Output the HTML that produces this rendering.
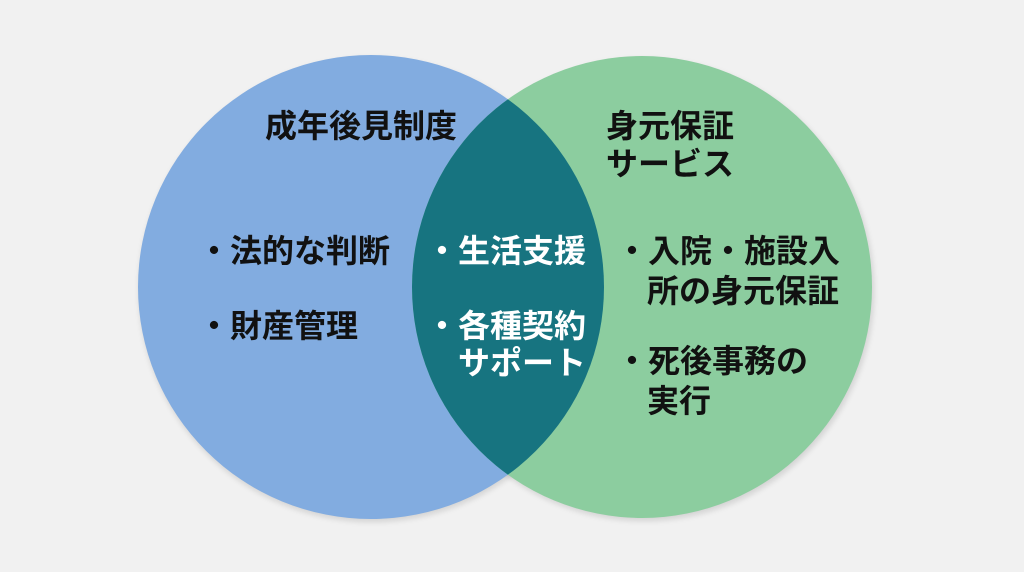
<!DOCTYPE html>
<html><head><meta charset="utf-8"><style>
html,body{margin:0;padding:0;background:#f1f1f1;}
svg{display:block}
text{font-family:"Liberation Sans","Noto Sans CJK JP",sans-serif;font-weight:bold;font-size:32px;}
</style></head><body>
<svg width="1024" height="572" viewBox="0 0 1024 572" xmlns="http://www.w3.org/2000/svg">
<defs>
<filter id="sh" x="-10%" y="-10%" width="120%" height="120%"><feGaussianBlur stdDeviation="3"/></filter>
<clipPath id="cl"><ellipse cx="371" cy="287" rx="233" ry="232"/></clipPath>
</defs>
<rect width="1024" height="572" fill="#f1f1f1"/>
<ellipse cx="372" cy="290" rx="233" ry="232" fill="#000" opacity="0.12" filter="url(#sh)"/>
<ellipse cx="644" cy="290" rx="230" ry="231" fill="#000" opacity="0.12" filter="url(#sh)"/>
<ellipse cx="371" cy="287" rx="233" ry="232" fill="#82ace0"/>
<ellipse cx="642" cy="287" rx="230" ry="231" fill="#8ccd9f"/>
<ellipse cx="642" cy="287" rx="230" ry="231" fill="#177480" clip-path="url(#cl)"/>
<g fill="#111">
<text x="265" y="137">成年後見制度</text>
<text x="606" y="137">身元保証</text>
<text x="606" y="175">サービス</text>
<text x="198" y="262">・法的な判断</text>
<text x="198" y="337">・財産管理</text>
<text x="616" y="262">・入院・施設入</text>
<text x="647" y="302">所の身元保証</text>
<text x="616" y="372">・死後事務の</text>
<text x="647" y="412">実行</text>
</g>
<g fill="#fff">
<text x="426" y="262">・生活支援</text>
<text x="426" y="337">・各種契約</text>
<text x="458" y="374">サポート</text>
</g>
</svg>
</body></html>
